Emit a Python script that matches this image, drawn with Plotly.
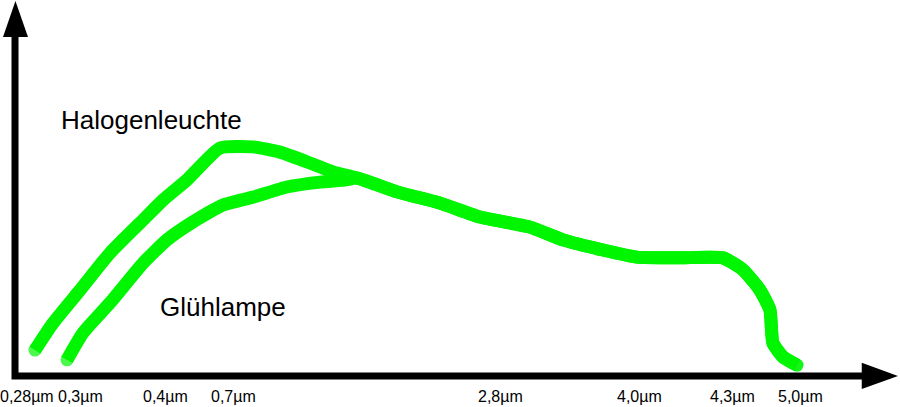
import plotly.graph_objects as go

# ---------------- data (x: position along the wavelength axis, y: relative intensity) -------------
tick_pos = [1.36, 7.36, 16.99, 24.80, 54.93, 70.78, 81.31, 89.01]
tick_labels = ["0,28µm", "0,3µm", "0,4µm", "0,7µm", "2,8µm", "4,0µm", "4,3µm", "5,0µm"]

halogen_x = [2.26, 4.30, 7.36, 10.76, 14.50, 16.76, 19.48, 23.22, 26.95, 30.01, 33.41, 36.01]
halogen_y = [6.9, 14.1, 22.9, 32.8, 41.6, 46.9, 52.3, 60.8, 61.1, 59.7, 56.8, 54.4]

gluh_x = [5.89, 7.70, 10.76, 14.50, 17.21, 20.16, 23.56, 26.95, 30.80, 34.54, 37.50]
gluh_y = [4.3, 11.5, 19.5, 30.1, 36.3, 41.1, 45.6, 47.7, 50.4, 51.7, 52.3]

tail_x = [38.73, 43.26, 48.13, 52.66, 58.32, 62.06, 66.59, 70.44, 75.31, 80.18, 82.45, 84.37, 85.50, 85.84, 86.98, 88.56]
tail_y = [52.8, 49.1, 46.1, 42.4, 39.7, 36.3, 33.6, 31.7, 31.5, 31.5, 28.3, 22.9, 17.6, 8.8, 5.1, 2.9]

series_names = ["Halogenleuchte", "Glühlampe"]

GREEN = "rgb(0,245,0)"
LW = 13

fig = go.Figure()

for xs, ys, name in [(halogen_x + tail_x, halogen_y + tail_y, series_names[0]),
                     (gluh_x + tail_x, gluh_y + tail_y, series_names[1])]:
    n = len(xs)
    sizes = [LW] + [0] * (n - 2) + [LW]
    fig.add_trace(go.Scatter(
        x=xs, y=ys, mode="lines+markers", name=name,
        line=dict(color=GREEN, width=LW, shape="spline", smoothing=0.5),
        marker=dict(color=GREEN, size=sizes, line=dict(width=0)),
        hoverinfo="skip", showlegend=False,
    ))

# axes drawn as arrows
fig.add_shape(type="path", path="M 0,90.5 L 0,0 L 96,0", xref="x", yref="y",
              line=dict(color="black", width=7), layer="above")
fig.add_shape(type="path", path="M -1.36,90.4 L 1.47,90.4 L 0.05,100 Z", xref="x", yref="y",
              line=dict(color="black", width=0), fillcolor="black", layer="above")
fig.add_shape(type="path", path="M 95.9,3.5 L 95.9,-3.5 L 100,0 Z", xref="x", yref="y",
              line=dict(color="black", width=0), fillcolor="black", layer="above")

# tick labels
for p, t in zip(tick_pos, tick_labels):
    fig.add_annotation(x=p, y=-5.6, text=t, showarrow=False, xref="x", yref="y",
                       xanchor="center", yanchor="middle",
                       font=dict(family="Liberation Sans, Arial", size=16, color="black"))

# series labels
fig.add_annotation(x=15.46, y=68.3, text=series_names[0], showarrow=False,
                   xanchor="center", yanchor="middle",
                   font=dict(family="Liberation Sans, Arial", size=26, color="black"))
fig.add_annotation(x=23.5, y=18.3, text=series_names[1], showarrow=False,
                   xanchor="center", yanchor="middle",
                   font=dict(family="Liberation Sans, Arial", size=26, color="black"))

fig.update_layout(
    width=900, height=407,
    margin=dict(l=0, r=0, t=0, b=0),
    paper_bgcolor="white", plot_bgcolor="white",
    xaxis=dict(range=[-1.7, 100.23], visible=False, fixedrange=True),
    yaxis=dict(range=[-8.27, 100.27], visible=False, fixedrange=True),
    hovermode=False,
)

fig.write_html("out.html", config={"displayModeBar": False},
               post_script="document.body.style.margin='0';document.body.style.overflow='hidden';")
